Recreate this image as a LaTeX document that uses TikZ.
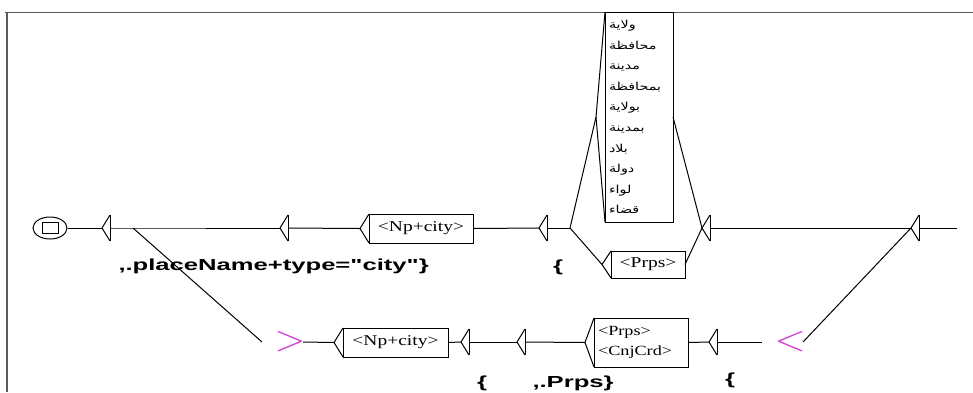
\documentclass[tikz,border=0pt]{standalone}
\usepackage{graphicx}
\usepackage{fontspec}
\newfontfamily\boxfont[FakeStretch=1.3]{Liberation Serif}
\newfontfamily\outfont[FakeStretch=1.6]{Liberation Sans}
\newfontfamily\arabicfont[Script=Arabic, FakeStretch=1.3]{DejaVu Sans}
\TeXXeTstate=1
\usetikzlibrary{positioning,shapes.geometric}
\definecolor{ctxpink}{RGB}{212,64,212}
\definecolor{framegray}{RGB}{90,90,90}
\tikzset{
  every picture/.style={line width=1pt},
  initst/.style={draw, ellipse, minimum width=34pt, minimum height=22pt, inner sep=0pt},
  initsq/.style={draw, rectangle, minimum width=16pt, minimum height=11pt, inner sep=0pt},
  % empty box: only the entry triangle
  tribox/.style={minimum width=8pt, minimum height=26pt, inner sep=0pt, outer sep=0pt,
    append after command={(\tikzlastnode.north east) edge (\tikzlastnode.west)
      (\tikzlastnode.west) edge (\tikzlastnode.south east)
      (\tikzlastnode.south east) edge (\tikzlastnode.north east)}},
  % box with text and its entry triangle
  lexbox/.style={draw, rectangle, inner sep=0pt, outer sep=0pt, minimum height=29pt,
    font=\boxfont\fontsize{15}{18}\selectfont,
    append after command={(\tikzlastnode.north west) edge ([xshift=-9pt]\tikzlastnode.west)
      ([xshift=-9pt]\tikzlastnode.west) edge (\tikzlastnode.south west)}},
  outlbl/.style={inner sep=0pt, font=\outfont\bfseries\fontsize{16}{18}\selectfont},
  ctxmark/.style={inner sep=0pt, text=ctxpink},
}
\begin{document}
\begin{tikzpicture}[x=1pt,y=-1pt]
\useasboundingbox (0,0) rectangle (973,392);
% frame
\draw[framegray] (5,12) -- (973,12);
\draw[framegray, line width=2pt] (7,12) -- (7,392);

% upper path
\node[initst] (init) at (50,228) {};
\node[initsq] (initsq) at (init) {};
\node[tribox] (e1) at (106,228) {};
\coordinate (e1x) at (133,228);
\node[tribox] (e2) at (284,228) {};
\node[lexbox, minimum width=104pt] (np1) at (421,228.5) {<Np+city>};
\node[tribox] (e3) at (543,228) {};
\coordinate (e3x) at (570,228);
\node[lexbox, minimum width=68pt, minimum height=210pt, text width=60pt, align=left,
  font=\arabicfont\fontsize{11}{20.6}\selectfont] (places) at (639,117)
  {\beginR ولاية\endR\\ \beginR محافظة\endR\\ \beginR مدينة\endR\\ \beginR بمحافظة\endR\\
   \beginR بولاية\endR\\ \beginR بمدينة\endR\\ \beginR بلاد\endR\\ \beginR دولة\endR\\
   \beginR لواء\endR\\ \beginR قضاء\endR};
\node[lexbox, minimum width=74pt, minimum height=27pt] (prps1) at (648,264.5) {<Prps>};
\node[tribox] (e4) at (706,228) {};
\node[tribox] (e5) at (915,228) {};
\coordinate (fin) at (957,228);

% lower path
\node[ctxmark] (gt) at (290,342) {\resizebox{31pt}{19pt}{$>$}};
\node[lexbox, minimum width=105pt] (np2) at (395.5,342.5) {<Np+city>};
\node[tribox] (e6) at (465,342) {};
\node[tribox] (e7) at (521,342) {};
\node[lexbox, minimum width=94pt, minimum height=49pt, text width=86pt, align=left,
  font=\boxfont\fontsize{14}{20}\selectfont] (prps2) at (641,342.5) {<Prps>\\<CnjCrd>};
\node[tribox] (e8) at (713,342) {};
\node[ctxmark] (lt) at (790,342) {\resizebox{31pt}{19pt}{$<$}};

% outputs
\node[outlbl, anchor=west] (out1) at (118,266) {,.placeName+type="city"\}};
\node[outlbl] (out3) at (558,267) {\{};
\node[outlbl] (out6) at (482,383) {\{};
\node[outlbl, anchor=west] (out7) at (532,383) {,.Prps\}};
\node[outlbl] (out8) at (730,380) {\{};

% transitions
\draw (init.east) -- (e1.west);
\draw (e1.east) -- (e1x) -- (e2.west);
\draw (e2.east) -- ([xshift=-9pt]np1.west);
\draw (np1.east) -- (e3.west);
\draw (e3.east) -- (e3x);
\draw (e3x) -- ([xshift=-9pt]places.west);
\draw (e3x) -- ([xshift=-9pt]prps1.west);
\draw (places.east) -- (e4.west);
\draw (prps1.east) -- (e4.west);
\draw (e4.east) -- (e5.west);
\draw (e5.east) -- (fin);
\draw (e1x) -- ([xshift=-12pt]gt.west);
\draw ([xshift=-3pt]gt.east) -- ([xshift=-9pt]np2.west);
\draw (np2.east) -- (e6.west);
\draw (e6.east) -- (e7.west);
\draw (e7.east) -- ([xshift=-9pt]prps2.west);
\draw (prps2.east) -- (e8.west);
\draw (e8.east) -- ([xshift=-12pt]lt.west);
\draw ([xshift=-3pt]lt.east) -- (e5.west);
\end{tikzpicture}
\end{document}
